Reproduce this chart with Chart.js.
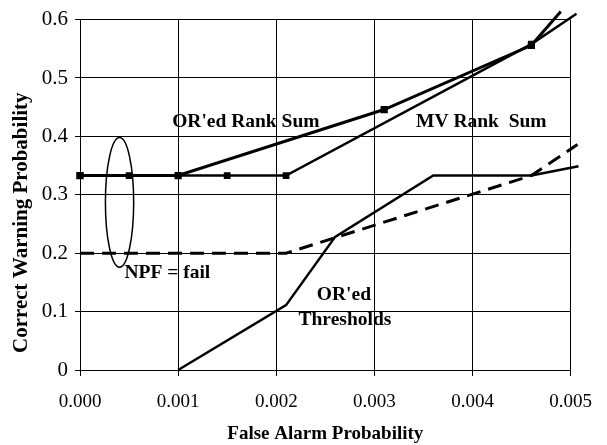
<!DOCTYPE html>
<html><head><meta charset="utf-8">
<script src="https://cdn.jsdelivr.net/npm/chart.js@4/dist/chart.umd.min.js"></script>
<style>html,body{margin:0;padding:0;background:#fff}</style>
</head><body>
<canvas id="c" width="607" height="445"></canvas>
<script>
// ---- data ----
const xTickValues = [0, 0.001, 0.002, 0.003, 0.004, 0.005];
const xTickLabels = ['0.000', '0.001', '0.002', '0.003', '0.004', '0.005'];
const yTickValues = [0, 0.1, 0.2, 0.3, 0.4, 0.5, 0.6];
const yTickLabels = ['0', '0.1', '0.2', '0.3', '0.4', '0.5', '0.6'];

const orRankSumX = [0, 0.001, 0.0031, 0.0046, 0.0049];
const orRankSumY = [0.333, 0.333, 0.446, 0.556, 0.614];

const mvRankSumX = [0, 0.0005, 0.0015, 0.0021, 0.0046, 0.00506];
const mvRankSumY = [0.333, 0.333, 0.333, 0.333, 0.558, 0.610];

const orThreshX = [0.001, 0.0021, 0.0026, 0.0036, 0.0046, 0.00508];
const orThreshY = [0, 0.111, 0.228, 0.333, 0.333, 0.349];

const dashedX = [0, 0.0021, 0.0046, 0.00507];
const dashedY = [0.2, 0.2, 0.333, 0.386];

const noteTexts = ["OR'ed Rank Sum", "MV Rank  Sum", "NPF = fail", "OR'ed", "Thresholds"];
const noteX = [0.00169, 0.00409, 0.00089, 0.00269, 0.0027];
const noteY = [0.424, 0.424, 0.166, 0.129, 0.0855];

const xTitle = 'False Alarm Probability';
const yTitle = 'Correct Warning Probability';

// ---- helpers ----
const pts = (xs, ys) => xs.map((v, i) => ({x: v, y: ys[i]}));
const SERIF = '"Liberation Serif", "Times New Roman", serif';

const notesPlugin = {
  id: 'notes',
  afterDatasetsDraw(chart) {
    const {ctx, scales: {x, y}} = chart;
    ctx.save();
    // ellipse around the NPF = fail points
    const cx = x.getPixelForValue(0.000403), cy = y.getPixelForValue(0.287);
    const rx = Math.abs(x.getPixelForValue(0.000403 + 0.000144) - cx);
    const ry = Math.abs(y.getPixelForValue(0.287 + 0.111) - cy);
    ctx.beginPath();
    ctx.ellipse(cx, cy, rx, ry, 0, 0, Math.PI * 2);
    ctx.lineWidth = 1.5;
    ctx.strokeStyle = '#000';
    ctx.stroke();
    // text notes
    ctx.fillStyle = '#000';
    ctx.font = 'bold 19.5px ' + SERIF;
    ctx.textAlign = 'center';
    ctx.textBaseline = 'middle';
    noteTexts.forEach((t, i) => {
      ctx.fillText(t, x.getPixelForValue(noteX[i]), y.getPixelForValue(noteY[i]));
    });
    // y axis title
    ctx.translate(22, 353);
    ctx.rotate(-Math.PI / 2);
    ctx.textAlign = 'left';
    ctx.font = 'bold 21px ' + SERIF;
    ctx.fillText(yTitle, 0, 0);
    ctx.restore();
  }
};

new Chart(document.getElementById('c'), {
  type: 'scatter',
  data: {
    datasets: [
      {label: "OR'ed Rank Sum", data: pts(orRankSumX, orRankSumY), showLine: true,
       borderColor: '#000', backgroundColor: '#000', borderWidth: 3,
       pointStyle: 'rect', pointRadius: [3, 3, 3, 3, 0], clip: false},
      {label: 'MV Rank Sum', data: pts(mvRankSumX, mvRankSumY), showLine: true,
       borderColor: '#000', backgroundColor: '#000', borderWidth: 2.5,
       pointStyle: 'rect', pointRadius: [3, 3, 3, 3, 3, 0], clip: false},
      {label: "OR'ed Thresholds", data: pts(orThreshX, orThreshY), showLine: true,
       borderColor: '#000', borderWidth: 2.5, pointRadius: 0, clip: false},
      {label: 'Dashed', data: pts(dashedX, dashedY), showLine: true,
       borderColor: '#000', borderWidth: 3, borderDash: [14, 8], pointRadius: 0, clip: false}
    ]
  },
  options: {
    responsive: false,
    animation: false,
    devicePixelRatio: 1,
    layout: {padding: {top: 19, right: 24, left: 0, bottom: 0}},
    plugins: {legend: {display: false}, tooltip: {enabled: false}},
    scales: {
      x: {
        type: 'linear', min: 0, max: 0.005,
        afterBuildTicks: s => { s.ticks = xTickValues.map(v => ({value: v})); },
        afterFit: s => { s.height = 75; },
        ticks: {callback: (v, i) => xTickLabels[i], color: '#000', padding: 15, maxRotation: 0,
                font: {family: SERIF, size: 19}},
        grid: {color: '#000', lineWidth: 1, tickLength: 6},
        border: {color: '#000', width: 1},
        title: {display: true, text: xTitle, color: '#000', padding: {top: 0, bottom: 0},
                font: {family: SERIF, size: 19, weight: 'bold'}}
      },
      y: {
        type: 'linear', min: 0, max: 0.6,
        afterBuildTicks: s => { s.ticks = yTickValues.map(v => ({value: v})); },
        afterFit: s => { s.width = 80; },
        ticks: {callback: (v, i) => yTickLabels[i], color: '#000', padding: 7,
                font: {family: SERIF, size: 21}},
        grid: {color: '#000', lineWidth: 1, tickLength: 5},
        border: {color: '#000', width: 1}
      }
    }
  },
  plugins: [notesPlugin]
});
</script>
</body></html>
